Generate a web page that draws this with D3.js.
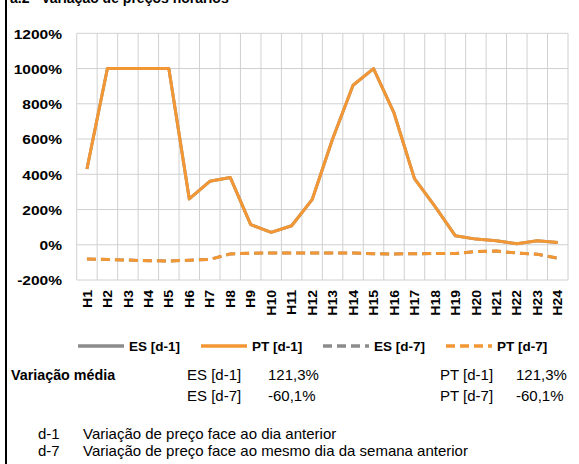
<!DOCTYPE html>
<html><head><meta charset="utf-8">
<script src="https://cdn.jsdelivr.net/npm/d3@7"></script>
<style>html,body{margin:0;padding:0;background:#fff;}svg{display:block;font-family:"Liberation Sans",Arial,sans-serif;}</style>
</head><body>
<script>
const hours = ["H1","H2","H3","H4","H5","H6","H7","H8","H9","H10","H11","H12","H13","H14","H15","H16","H17","H18","H19","H20","H21","H22","H23","H24"];
const ES_d1 = [430,1000,1000,1000,1000,260,360,382,114,70,108,256,600,905,1000,748,375,218,51,32,23,6,23,13];
const PT_d1 = [430,1000,1000,1000,1000,260,360,382,114,70,108,256,600,905,1000,748,375,218,51,32,23,6,23,13];
const ES_d7 = [-81,-83,-87,-91,-92,-88,-83,-52,-48,-47,-47,-47,-47,-47,-51,-52,-51,-50,-50,-38,-36,-47,-54,-76];
const PT_d7 = [-81,-83,-87,-91,-92,-88,-83,-52,-48,-47,-47,-47,-47,-47,-51,-52,-51,-50,-50,-38,-36,-47,-54,-76];
const yTicks = [-200,0,200,400,600,800,1000,1200];
const seriesNames = ["ES [d-1]","PT [d-1]","ES [d-7]","PT [d-7]"];
const statLabels = ["ES [d-1]","ES [d-7]","PT [d-1]","PT [d-7]"];
const statValues = ["121,3%","-60,1%","121,3%","-60,1%"];
const title = "a.2   Variação de preços horários";
const notes = [["d-1","Variação de preço face ao dia anterior"],["d-7","Variação de preço face ao mesmo dia da semana anterior"]];

const W=579,H=464;
const svg=d3.select("body").append("svg").attr("width",W).attr("height",H);
const orange="#F29734", gray="#8C8C8C", grid="#D0D0D0";

svg.append("rect").attr("x",5).attr("y",0).attr("width",2).attr("height",H).attr("fill","#000");
svg.append("text").attr("x",10).attr("y",3).attr("font-size",14).attr("font-weight","bold").attr("xml:space","preserve").text(title);

const x=d3.scaleBand().domain(hours).range([76.7,568]);
const y=d3.scaleLinear().domain([-200,1200]).range([280,33.3]);

// grid
const g=svg.append("g");
g.selectAll("line.h").data(yTicks).join("line")
 .attr("x1",x.range()[0]).attr("x2",x.range()[1]).attr("y1",d=>y(d)).attr("y2",d=>y(d))
 .attr("stroke",grid).attr("stroke-width",1);
const bounds=hours.map(h=>x(h)).concat([x.range()[1]]);
g.selectAll("line.v").data(bounds).join("line")
 .attr("x1",d=>d).attr("x2",d=>d).attr("y1",y(1200)).attr("y2",y(-200))
 .attr("stroke",grid).attr("stroke-width",1);

// y axis
const ya=svg.append("g").attr("transform","translate(62,0)")
 .call(d3.axisLeft(y).tickValues(yTicks).tickSize(0).tickPadding(0).tickFormat(d=>d+"%"));
ya.select(".domain").remove();
ya.selectAll("text").attr("font-size",13.5).attr("font-weight","bold").attr("fill","#000")
 .attr("font-family","Liberation Sans, Arial, sans-serif")
 .attr("transform","scale(1.15,1)").attr("dy","0.36em").attr("x",0);

// x axis
const xa=svg.append("g").attr("transform","translate(0,290)")
 .call(d3.axisBottom(x).tickSize(0).tickPadding(0));
xa.select(".domain").remove();
xa.selectAll("text").attr("font-size",14).attr("font-weight","bold").attr("fill","#000")
 .attr("font-family","Liberation Sans, Arial, sans-serif")
 .attr("text-anchor","end").attr("y",0).attr("dy","0.36em")
 .attr("transform","rotate(-90) scale(1,0.92)");

const cx=h=>x(h)+x.bandwidth()/2;
const line=d3.line().x((d,i)=>cx(hours[i])).y(d=>y(d));
const series=[[ES_d1,gray,null],[PT_d1,orange,null],[ES_d7,gray,"9,5"],[PT_d7,orange,"9,5"]];
series.forEach(s=>{
  svg.append("path").attr("d",line(s[0])).attr("fill","none").attr("stroke",s[1])
   .attr("stroke-width",3).attr("stroke-dasharray",s[2]).attr("stroke-linejoin","round");
});

// legend
const lg=svg.append("g");
const legX=[78,201,323,446];
seriesNames.forEach((n,i)=>{
  const s=series[i];
  lg.append("line").attr("x1",legX[i]).attr("x2",legX[i]+46).attr("y1",346).attr("y2",346)
   .attr("stroke",s[1]).attr("stroke-width",3.5).attr("stroke-dasharray",s[2]);
  lg.append("text").attr("transform",`translate(${legX[i]+51},351)`).attr("font-size",13.5)
   .attr("font-weight","bold").text(n);
});

// stats
svg.append("text").attr("x",11).attr("y",380).attr("font-size",14.3).attr("font-weight","bold").text("Variação média");
const sx=[187,187,440,440], sy=[380,401,380,401], vx=[268,268,516,516];
statLabels.forEach((l,i)=>{
  svg.append("text").attr("x",sx[i]).attr("y",sy[i]).attr("font-size",15).text(l);
  svg.append("text").attr("x",vx[i]).attr("y",sy[i]).attr("font-size",15).text(statValues[i]);
});
notes.forEach((n,i)=>{
  svg.append("text").attr("x",38).attr("y",439+i*17).attr("font-size",15).text(n[0]);
  svg.append("text").attr("x",83).attr("y",439+i*17).attr("font-size",15).text(n[1]);
});
</script>
</body></html>
